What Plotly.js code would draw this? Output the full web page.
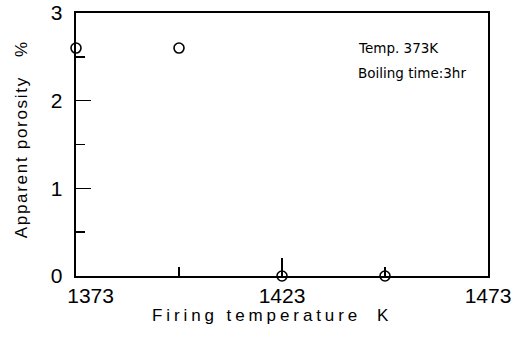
<!DOCTYPE html>
<html>
<head>
<meta charset="utf-8">
<script src="https://cdn.plot.ly/plotly-3.0.1.min.js"></script>
<style>
  html, body { margin: 0; padding: 0; background: #fff; }
  #chart { width: 520px; height: 340px; }
  /* axis captions are set with wide tracking */
  .annotation[data-index="2"] text { letter-spacing: 3.9px; }
  .annotation[data-index="3"] text { letter-spacing: 1.7px; }
</style>
</head>
<body>
<div id="chart"></div>
<script>
// Firing temperature (K) and apparent porosity (%) after boiling
const firingTemp = [1373, 1398, 1423, 1448];
const porosity = [2.6, 2.6, 0, 0];

const NB = '\u00a0';
const xTickVals = [1373, 1423, 1473];
// the first label sits a little right of its tick, clear of the "0"
const xTickText = [NB.repeat(5) + '1373', '1423', '1473'];
const yTickVals = [0, 1, 2, 3];
const yTickText = ['0', '1', '2', '3'].map(s => s + NB + '\u200a');

const noteLines = ['Temp. 373K', 'Boiling time:3hr'];
const noteY = [2.60, 2.31];

const xTitle = 'Firing temperature \u2009K';
const yTitle = 'Apparent porosity   %';

const tickFont = { family: 'Liberation Sans, Arial, sans-serif', size: 21, color: '#000' };
const titleFont = { family: 'Liberation Sans, Arial, sans-serif', size: 17, color: '#000' };

const trace = {
  x: firingTemp,
  y: porosity,
  type: 'scatter',
  mode: 'markers',
  marker: { symbol: 'circle-open', size: 10, color: '#000', line: { width: 1.6, color: '#000' } },
  cliponaxis: false,
  hoverinfo: 'skip'
};

const notes = noteLines.map((t, i) => ({
  text: t,
  x: 1441,
  y: noteY[i],
  xref: 'x',
  yref: 'y',
  xanchor: 'left',
  yanchor: 'middle',
  showarrow: false,
  font: { family: 'DejaVu Sans, sans-serif', size: 13.5, color: '#000' }
}));

const captions = [
  { text: xTitle, x: 0.478, y: -0.152, xref: 'paper', yref: 'paper',
    xanchor: 'center', yanchor: 'middle', showarrow: false, font: titleFont },
  { text: yTitle, x: -0.1335, y: 0.523, xref: 'paper', yref: 'paper', textangle: -90,
    xanchor: 'center', yanchor: 'middle', showarrow: false, font: titleFont }
];

const layout = {
  width: 520,
  height: 340,
  margin: { l: 76, r: 32, t: 13, b: 64 },
  paper_bgcolor: '#fff',
  plot_bgcolor: '#fff',
  showlegend: false,
  xaxis: {
    range: [1373, 1473],
    tickvals: xTickVals,
    ticktext: xTickText,
    ticks: 'inside',
    ticklen: 18,
    tickwidth: 1.4,
    tickcolor: '#000',
    minor: { dtick: 25, tick0: 1373, ticks: 'inside', ticklen: 9, tickwidth: 1.4, tickcolor: '#000', showgrid: false },
    showline: true,
    linewidth: 1.8,
    linecolor: '#000',
    mirror: true,
    showgrid: false,
    zeroline: false,
    tickfont: tickFont
  },
  yaxis: {
    range: [0, 3],
    tickvals: yTickVals,
    ticktext: yTickText,
    ticks: 'inside',
    ticklen: 15,
    tickwidth: 1.4,
    tickcolor: '#000',
    minor: { dtick: 0.5, tick0: 0, ticks: 'inside', ticklen: 9, tickwidth: 1.4, tickcolor: '#000', showgrid: false },
    showline: true,
    linewidth: 1.8,
    linecolor: '#000',
    mirror: true,
    showgrid: false,
    zeroline: false,
    tickfont: tickFont
  },
  annotations: notes.concat(captions)
};

Plotly.newPlot('chart', [trace], layout, { staticPlot: true, displayModeBar: false });
</script>
</body>
</html>
